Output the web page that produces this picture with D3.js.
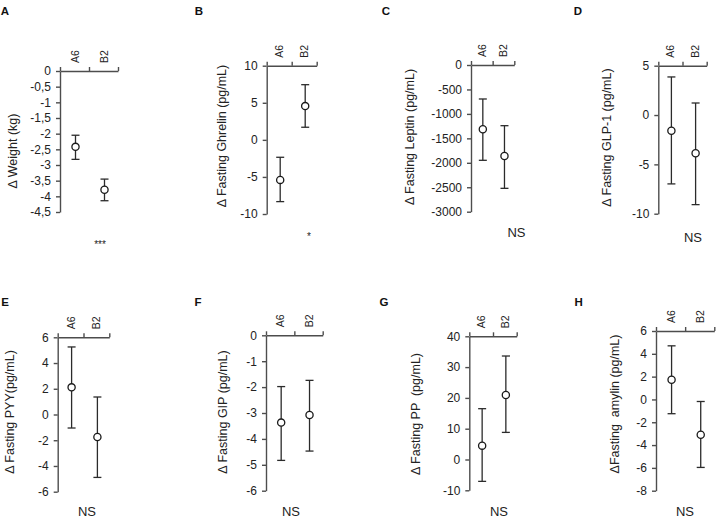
<!DOCTYPE html>
<html><head><meta charset="utf-8">
<script src="https://cdn.jsdelivr.net/npm/d3@7"></script>
<style>body{margin:0;background:#fff}svg{display:block}</style>
</head><body>
<svg id="c" width="716" height="521"></svg>
<script>
// ---- data ----
const categories = ["A6", "B2"];
const panelLetters = ["A", "B", "C", "D", "E", "F", "G", "H"];
const yLabels = [
  "Δ Weight (kg)",
  "Δ Fasting Ghrelin (pg/mL)",
  "Δ Fasting Leptin (pg/mL)",
  "Δ Fasting GLP-1 (pg/mL)",
  "Δ Fasting PYY(pg/mL)",
  "Δ Fasting GIP (pg/mL)",
  "Δ Fasting PP  (pg/mL)",
  "ΔFasting  amylin (pg/mL)"
];
const means = [
  [-2.42, -3.79], [-5.4, 4.55], [-1315, -1861], [-1.59, -3.88],
  [2.11, -1.75], [-3.37, -3.08], [4.5, 20.95], [1.72, -3.1]
];
const errUpper = [
  [-2.05, -3.45], [-2.35, 7.44], [-695, -1241], [3.86, 1.22],
  [5.25, 1.36], [-1.98, -1.74], [16.5, 33.6], [4.7, -0.18]
];
const errLower = [
  [-2.82, -4.14], [-8.33, 1.7], [-1949, -2522], [-6.98, -9.08],
  [-1.05, -4.89], [-4.83, -4.47], [-7.1, 8.8], [-1.25, -5.96]
];
const yDomains = [
  [-4.5, 0], [-10, 10], [-3000, 0], [-10, 5],
  [-6, 6], [-6, 0], [-10, 40], [-8, 6]
];
const yTicks = [
  [0, -0.5, -1, -1.5, -2, -2.5, -3, -3.5, -4, -4.5],
  [10, 5, 0, -5, -10],
  [0, -500, -1000, -1500, -2000, -2500, -3000],
  [5, 0, -5, -10],
  [6, 4, 2, 0, -2, -4, -6],
  [0, -1, -2, -3, -4, -5, -6],
  [40, 30, 20, 10, 0, -10],
  [6, 4, 2, 0, -2, -4, -6, -8]
];
const significance = ["***", "*", "NS", "NS", "NS", "NS", "NS", "NS"];

// ---- layout (positions, not data) ----
const layout = [
  {ax: 60,    top: 71,    bot: 212,   right: 118,   lx: 5,     ly: 11,  yl: [13, 151],   sig: [100, 244]},
  {ax: 266.7, top: 65.7,  bot: 214,   right: 316.7, lx: 199,   ly: 11,  yl: [221.7, 136], sig: [309, 236]},
  {ax: 471,   top: 65,    bot: 211.7, right: 514.3, lx: 386,   ly: 11,  yl: [410, 137],  sig: [516.5, 232]},
  {ax: 658.3, top: 65.7,  bot: 213.7, right: 706.7, lx: 578,   ly: 11,  yl: [607, 137.5], sig: [693, 237]},
  {ax: 57.7,  top: 337.3, bot: 491.7, right: 109.3, lx: 5,     ly: 302, yl: [10, 412],   sig: [87, 511]},
  {ax: 266,   top: 335.3, bot: 490.7, right: 322.7, lx: 198,   ly: 302, yl: [222.7, 412], sig: [291, 511]},
  {ax: 469.3, top: 336.3, bot: 490.3, right: 516.7, lx: 384,   ly: 302, yl: [416, 414],  sig: [499, 511]},
  {ax: 656,   top: 331,   bot: 490.7, right: 714.3, lx: 578.7, ly: 302, yl: [615, 404],  sig: [685, 511]}
];

const svg = d3.select("#c");
const axisColor = "#4d4d4d";
const font = "Liberation Sans, Arial, sans-serif";
const fmt = d => String(d).replace(".", ",");

panelLetters.forEach((letter, i) => {
  const L = layout[i];
  const g = svg.append("g");
  const y = d3.scaleLinear().domain(yDomains[i]).range([L.bot, L.top]);
  const x = d3.scaleBand().domain(categories).range([L.ax, L.right]).padding(0);
  const xb = d3.scaleLinear().domain([0, categories.length]).range([L.ax, L.right]);

  // panel letter
  g.append("text").attr("x", L.lx).attr("y", L.ly).attr("dy", "0.35em")
    .attr("text-anchor", "middle").attr("font-family", font)
    .attr("font-weight", "bold").attr("font-size", 11.5).attr("fill", "#111").text(letter);

  // y axis
  const ya = g.append("g").attr("transform", `translate(${L.ax},0)`)
    .call(d3.axisLeft(y).tickValues(yTicks[i]).tickFormat(fmt).tickSize(4).tickSizeOuter(0).tickPadding(5));
  ya.select(".domain").attr("stroke", axisColor).attr("stroke-width", 1.4);
  ya.selectAll(".tick line").attr("stroke", axisColor).attr("stroke-width", 1.4);
  ya.selectAll(".tick text").attr("font-family", font)
    .attr("font-size", 12).attr("fill", "#222");

  // top x axis (boundaries)
  const xa = g.append("g").attr("transform", `translate(0,${L.top})`)
    .call(d3.axisTop(xb).tickValues(d3.range(0, categories.length + 1)).tickFormat("").tickSize(4).tickSizeOuter(0));
  xa.select(".domain").attr("stroke", axisColor).attr("stroke-width", 1.4);
  xa.selectAll(".tick line").attr("stroke", axisColor).attr("stroke-width", 1.4);

  // category labels
  g.selectAll(".cat").data(categories).join("text")
    .attr("transform", d => `translate(${x(d) + x.bandwidth() / 2 + 4},${L.top - 8}) rotate(-90)`)
    .attr("text-anchor", "start").attr("font-family", font)
    .attr("font-size", 10.5).attr("fill", "#222").text(d => d);

  // y label
  g.append("text").attr("transform", `translate(${L.yl[0]},${L.yl[1]}) rotate(-90)`)
    .attr("dy", "0.35em").attr("text-anchor", "middle")
    .attr("font-family", font).attr("font-size", 12.5)
    .attr("fill", "#222").style("white-space", "pre").text(yLabels[i]);

  // error bars and points
  const pts = categories.map((c, j) => ({c, m: means[i][j], hi: errUpper[i][j], lo: errLower[i][j]}));
  const cx = d => x(d.c) + x.bandwidth() / 2 + 1;
  const eb = g.append("g").attr("stroke", "#2b2b2b").attr("stroke-width", 1.3).attr("fill", "none");
  eb.selectAll(".v").data(pts).join("line")
    .attr("x1", cx).attr("x2", cx).attr("y1", d => y(d.hi)).attr("y2", d => y(d.lo));
  eb.selectAll(".ct").data(pts).join("line")
    .attr("x1", d => cx(d) - 4).attr("x2", d => cx(d) + 4).attr("y1", d => y(d.hi)).attr("y2", d => y(d.hi));
  eb.selectAll(".cb").data(pts).join("line")
    .attr("x1", d => cx(d) - 4).attr("x2", d => cx(d) + 4).attr("y1", d => y(d.lo)).attr("y2", d => y(d.lo));
  g.selectAll("circle").data(pts).join("circle")
    .attr("cx", cx).attr("cy", d => y(d.m)).attr("r", 3.6)
    .attr("fill", "#fff").attr("stroke", "#1a1a1a").attr("stroke-width", 1.3);

  // significance
  const isNS = significance[i] === "NS";
  g.append("text").attr("x", L.sig[0]).attr("y", L.sig[1]).attr("dy", "0.35em")
    .attr("text-anchor", "middle").attr("font-family", font)
    .attr("font-size", isNS ? 13 : 10).attr("fill", "#222").text(significance[i]);
});
</script>
</body></html>
